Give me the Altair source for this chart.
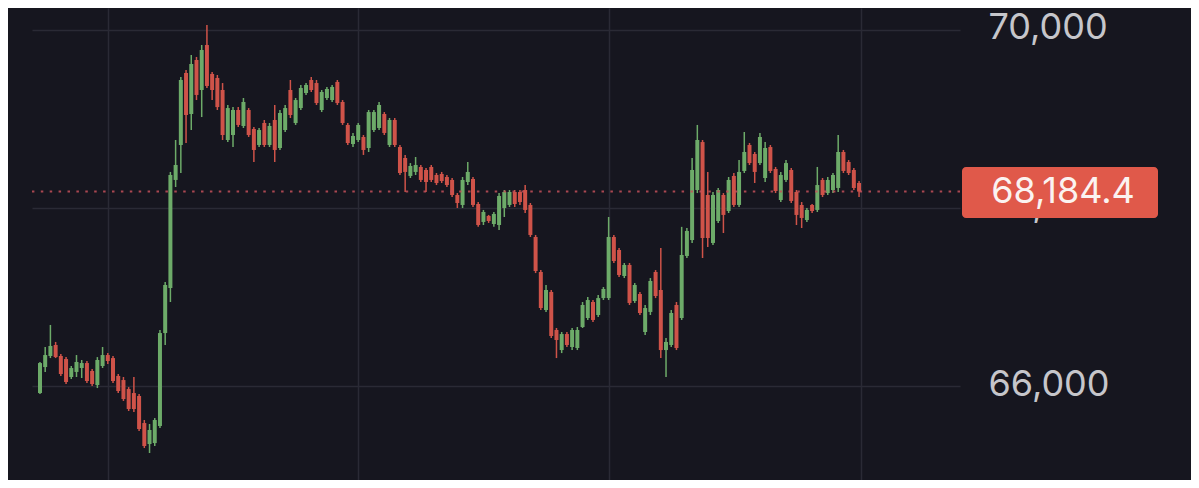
import altair as alt
import pandas as pd

# Candle index (time order)
t = list(range(158))

O = [65921, 66213, 66337, 66461, 66337, 66303, 66101, 66158, 66202, 66258,
     66169, 66011, 66225, 66348, 66314, 66113, 66067, 65966, 65921, 65888,
     65584, 65348, 65359, 65551, 66595, 67101, 68315, 68708, 69517, 69056,
     69663, 69326, 69831, 69506, 69461, 69326, 68764, 68820, 69101, 68921,
     69101, 68888, 68708, 68955, 68708, 68989, 68674, 68876, 69326, 68955,
     69123, 69292, 69438, 69404, 69101, 69236, 69213, 69416, 69191, 68933,
     68719, 68764, 68798, 68674, 68876, 68899, 69056, 68708, 68989, 68685,
     68562, 68360, 68405, 68461, 68427, 68461, 68371, 68382, 68348, 68315,
     68146, 68034, 68292, 68326, 68045, 67843, 67911, 67820, 67809, 68000,
     68034, 68180, 68180, 68202, 68034, 67674, 67281, 66854, 67057, 66629,
     66404, 66584, 66438, 66427, 66663, 66764, 66944, 66798, 66988, 66988,
     67674, 67528, 67236, 67360, 66955, 67034, 66607, 66832, 67281, 67079,
     66404, 66461, 66910, 66764, 67461, 67640, 68202, 68741, 68146, 67607,
     67854, 68146, 67966, 68360, 68034, 68416, 68708, 68607, 68505, 68337,
     68685, 68438, 68090, 68315, 68427, 68180, 68034, 67865, 68034, 67978,
     68315, 68168, 68202, 68225, 68629, 68517, 68427, 68281]

H = [66270, 66438, 66686, 66495, 66359, 66325, 66225, 66348, 66292, 66281,
     66191, 66325, 66438, 66370, 66337, 66135, 66101, 65988, 66101, 65910,
     65618, 65573, 65640, 66629, 67169, 68405, 68764, 69472, 69551, 69719,
     69697, 69831, 70056, 69528, 69494, 69404, 69157, 69134, 69134, 69236,
     69123, 68910, 68899, 68989, 68955, 69157, 69101, 69157, 69438, 69236,
     69382, 69404, 69472, 69438, 69326, 69360, 69382, 69438, 69213, 68955,
     68843, 68955, 68820, 69101, 69101, 69191, 69078, 69011, 69011, 68708,
     68596, 68505, 68573, 68483, 68449, 68483, 68393, 68405, 68371, 68337,
     68168, 68348, 68517, 68348, 68067, 67978, 67922, 67955, 68168, 68202,
     68202, 68202, 68202, 68258, 68056, 67697, 67303, 67135, 67079, 66652,
     66607, 66607, 66652, 66663, 66944, 66999, 66966, 67022, 67112, 67899,
     67697, 67551, 67382, 67382, 67157, 67057, 66910, 67213, 67303, 67551,
     66540, 66854, 66944, 67788, 67775, 68562, 68933, 68764, 68405, 68180,
     68225, 68168, 68348, 68393, 68539, 68854, 68730, 68629, 68843, 68741,
     68708, 68461, 68405, 68539, 68449, 68202, 68067, 68000, 68045, 68461,
     68337, 68348, 68393, 68820, 68652, 68539, 68449, 68303]

L = [65910, 66158, 66314, 66314, 66113, 66022, 66079, 66101, 66090, 66033,
     66000, 65977, 66202, 66247, 66033, 65921, 65832, 65719, 65708, 65495,
     65303, 65247, 65326, 65528, 66461, 66944, 68236, 68393, 68730, 68876,
     69213, 69022, 69348, 69213, 69101, 68764, 68741, 68685, 68910, 68899,
     68798, 68517, 68685, 68685, 68685, 68517, 68652, 68854, 69011, 68933,
     69101, 69270, 69303, 69157, 69078, 69213, 69191, 69157, 68933, 68708,
     68685, 68741, 68596, 68629, 68854, 68876, 68820, 68685, 68685, 68371,
     68180, 68337, 68371, 68292, 68180, 68292, 68258, 68281, 68236, 68123,
     68000, 68000, 68258, 68011, 67788, 67809, 67832, 67788, 67753, 67899,
     68011, 68011, 68034, 67944, 67674, 67269, 66854, 66832, 66540, 66314,
     66370, 66438, 66404, 66404, 66652, 66742, 66719, 66775, 66966, 66966,
     67382, 67225, 67213, 66910, 66933, 66798, 66573, 66798, 66988, 66314,
     66101, 66438, 66404, 66742, 67438, 67607, 68168, 67438, 67562, 67584,
     67832, 67719, 67944, 68011, 68011, 68393, 68483, 68281, 68483, 68292,
     68393, 68168, 68067, 68292, 68056, 67809, 67775, 67843, 67944, 67955,
     68123, 68146, 68168, 68180, 68393, 68371, 68202, 68123]

C = [66258, 66348, 66450, 66325, 66135, 66045, 66202, 66270, 66258, 66056,
     66022, 66292, 66348, 66281, 66056, 65944, 65854, 65742, 65742, 65517,
     65326, 65506, 65618, 66595, 67135, 68371, 68483, 69438, 69045, 69618,
     69270, 69775, 69371, 69326, 69134, 68820, 69123, 69101, 68933, 69191,
     68820, 68652, 68876, 68708, 68921, 68652, 69067, 69123, 69045, 69213,
     69348, 69382, 69326, 69179, 69303, 69337, 69360, 69179, 68955, 68730,
     68809, 68933, 68652, 69078, 69078, 69157, 68843, 68989, 68708, 68393,
     68405, 68472, 68483, 68315, 68292, 68315, 68281, 68303, 68258, 68146,
     68056, 68315, 68405, 68034, 67809, 67955, 67854, 67933, 68135, 68180,
     68180, 68045, 68067, 67978, 67697, 67292, 66876, 67079, 66562, 66517,
     66584, 66461, 66629, 66629, 66910, 66966, 66742, 66988, 67090, 67674,
     67404, 67247, 67360, 66933, 67135, 66820, 66876, 67180, 67011, 66404,
     66495, 66820, 66427, 67472, 67742, 68427, 68764, 67663, 67663, 68146,
     68202, 67922, 68315, 68034, 68405, 68629, 68505, 68405, 68798, 68674,
     68416, 68191, 68371, 68505, 68079, 67922, 67888, 67978, 67966, 68258,
     68146, 68315, 68371, 68629, 68416, 68393, 68225, 68184.4]

y_ticks = [66000, 68000, 70000]
time_grid = [13.08, 61.05, 109.0, 157.4]
last_price = [68184.4]
last_label = ["68,184.4"]

df = pd.DataFrame({"t": t, "o": O, "h": H, "l": L, "c": C})
df["dir"] = ["up" if c >= o else "down" for o, c in zip(O, C)]
price_df = pd.DataFrame({"price": last_price, "label": last_label})

BG = "#16161f"
GRID = "#2a2a35"
UP = "#6dab69"
DOWN = "#cf5349"

xscale = alt.Scale(domain=[-0.57, 175.39], nice=False, zero=False)
yscale = alt.Scale(domain=[64944, 70247], nice=False, zero=False)
color = alt.Color("dir:N", scale=alt.Scale(domain=["up", "down"], range=[UP, DOWN]), legend=None)

xaxis = alt.Axis(values=time_grid, labels=False, ticks=False, domain=False,
                 grid=True, gridColor=GRID, gridWidth=1.5, title=None)
yaxis = alt.Axis(orient="right", values=y_ticks, format=",d", labelFont="Inter",
                 labelFontSize=36, labelColor="#c6c6cb", labelPadding=28,
                 labelAlign="left", labelBaseline="middle", labelOffset=-2,
                 ticks=False, tickSize=0, domain=False, grid=True,
                 gridColor=GRID, gridWidth=1.5, title=None)

base = alt.Chart(df)

wicks = base.mark_rule(strokeWidth=1.5).encode(
    x=alt.X("t:Q", scale=xscale, axis=xaxis),
    y=alt.Y("l:Q", scale=yscale, axis=yaxis),
    y2="h:Q",
    color=color,
)

bodies = base.mark_bar(size=4).encode(
    x=alt.X("t:Q", scale=xscale),
    y=alt.Y("o:Q", scale=yscale),
    y2="c:Q",
    color=color,
)

pline = alt.Chart(price_df).mark_rule(
    color="#c4505a", strokeWidth=2, strokeDash=[2.5, 6.4], opacity=0.85
).encode(y=alt.Y("price:Q", scale=yscale))

pbox = alt.Chart(price_df).transform_calculate(
    top="datum.price + 276", bot="datum.price - 296"
).mark_rect(color="#e0594a", cornerRadius=4).encode(
    x=alt.value(930), x2=alt.value(1126),
    y=alt.Y("top:Q", scale=yscale), y2="bot:Q",
)

ptext = alt.Chart(price_df).mark_text(
    font="Inter", fontSize=36, color="#fbf3f1", align="center", baseline="middle"
).encode(
    x=alt.value(1031),
    y=alt.Y("price:Q", scale=yscale),
    text="label:N",
)

chart = alt.layer(wicks, bodies, pline, pbox, ptext).properties(
    width=928, height=472, background=BG,
    padding={"left": 24, "top": 0, "right": 231, "bottom": 0},
    autosize=alt.AutoSizeParams(type="none"),
).configure_view(strokeWidth=0)

chart.save("out.html", embed_options={"renderer": "svg", "actions": False})
